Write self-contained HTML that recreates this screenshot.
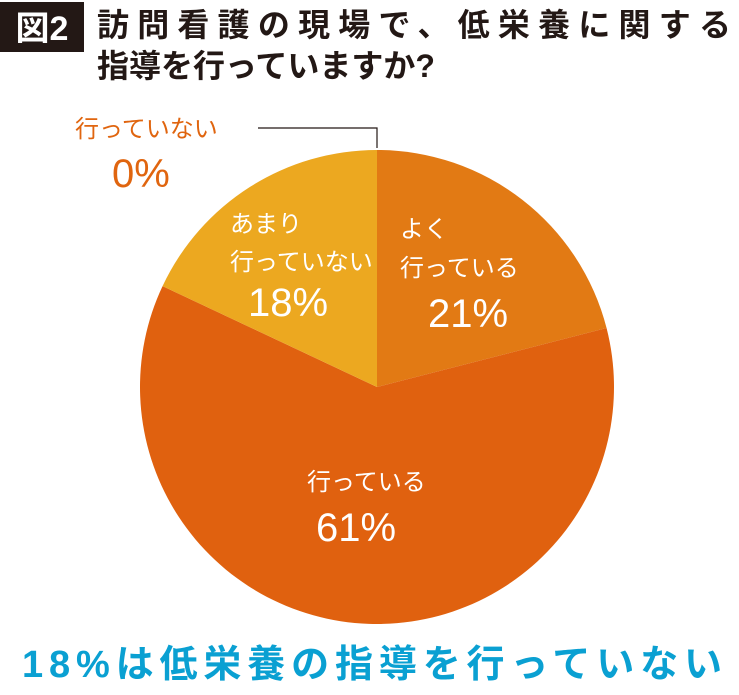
<!DOCTYPE html>
<html><head><meta charset="utf-8"><style>
body{margin:0;background:#fff;width:739px;height:690px;overflow:hidden;font-family:"Liberation Sans","Noto Sans CJK JP",sans-serif}
svg text{font-family:"Liberation Sans","Noto Sans CJK JP",sans-serif}
</style></head><body>
<svg width="739" height="690">
<rect x="0" y="2" width="84" height="50" fill="#231815"/>
<text x="42" y="40" fill="#fff" font-size="34" font-weight="bold" text-anchor="middle">図2</text>
<text x="97" y="36" fill="#231815" font-size="32" font-weight="bold" textLength="634">訪問看護の現場で、低栄養に関する</text>
<text x="97" y="77" fill="#231815" font-size="32" font-weight="bold">指導を行っていますか?</text>
<g id="slices"></g>
<polyline points="258,128 377,128 377,148" fill="none" stroke="#231815" stroke-width="1.2"/>
<text x="75" y="137" fill="#E0650F" font-size="24">行っていない</text>
<text x="112" y="187" fill="#E0650F" font-size="40">0%</text>
<g fill="#fff">
<text x="400" y="237" font-size="24">よく</text>
<text x="400" y="276" font-size="24">行っている</text>
<text x="428" y="327" font-size="40">21%</text>
<text x="230" y="232" font-size="24">あまり</text>
<text x="230" y="270" font-size="24">行っていない</text>
<text x="248" y="316" font-size="40">18%</text>
<text x="307" y="490" font-size="24">行っている</text>
<text x="316" y="541" font-size="40">61%</text>
</g>
<text x="372" y="677" fill="#0AA0D2" font-size="38" font-weight="bold" text-anchor="middle" textLength="700">18%は低栄養の指導を行っていない</text>
</svg>
<script>
const categories=["よく行っている","行っている","あまり行っていない","行っていない"];
const values=[21,61,18,0];
const colors=["#E27A14","#E0610F","#ECA820","#E0650F"];
const cx=377,cy=387,r=237;
const g=document.getElementById('slices');
const total=values.reduce((a,b)=>a+b,0);
let acc=0;
function pt(f){const a=f*2*Math.PI;return [cx+r*Math.sin(a),cy-r*Math.cos(a)];}
values.forEach((v,i)=>{
 if(v<=0){return;}
 const f0=acc/total,f1=(acc+v)/total;acc+=v;
 const p0=pt(f0),p1=pt(f1);
 const large=(f1-f0)>0.5?1:0;
 const p=document.createElementNS('http://www.w3.org/2000/svg','path');
 p.setAttribute('d',`M${cx},${cy}L${p0[0]},${p0[1]}A${r},${r} 0 ${large} 1 ${p1[0]},${p1[1]}Z`);
 p.setAttribute('fill',colors[i]);
 
 
 g.appendChild(p);
});
</script>
</body></html>
